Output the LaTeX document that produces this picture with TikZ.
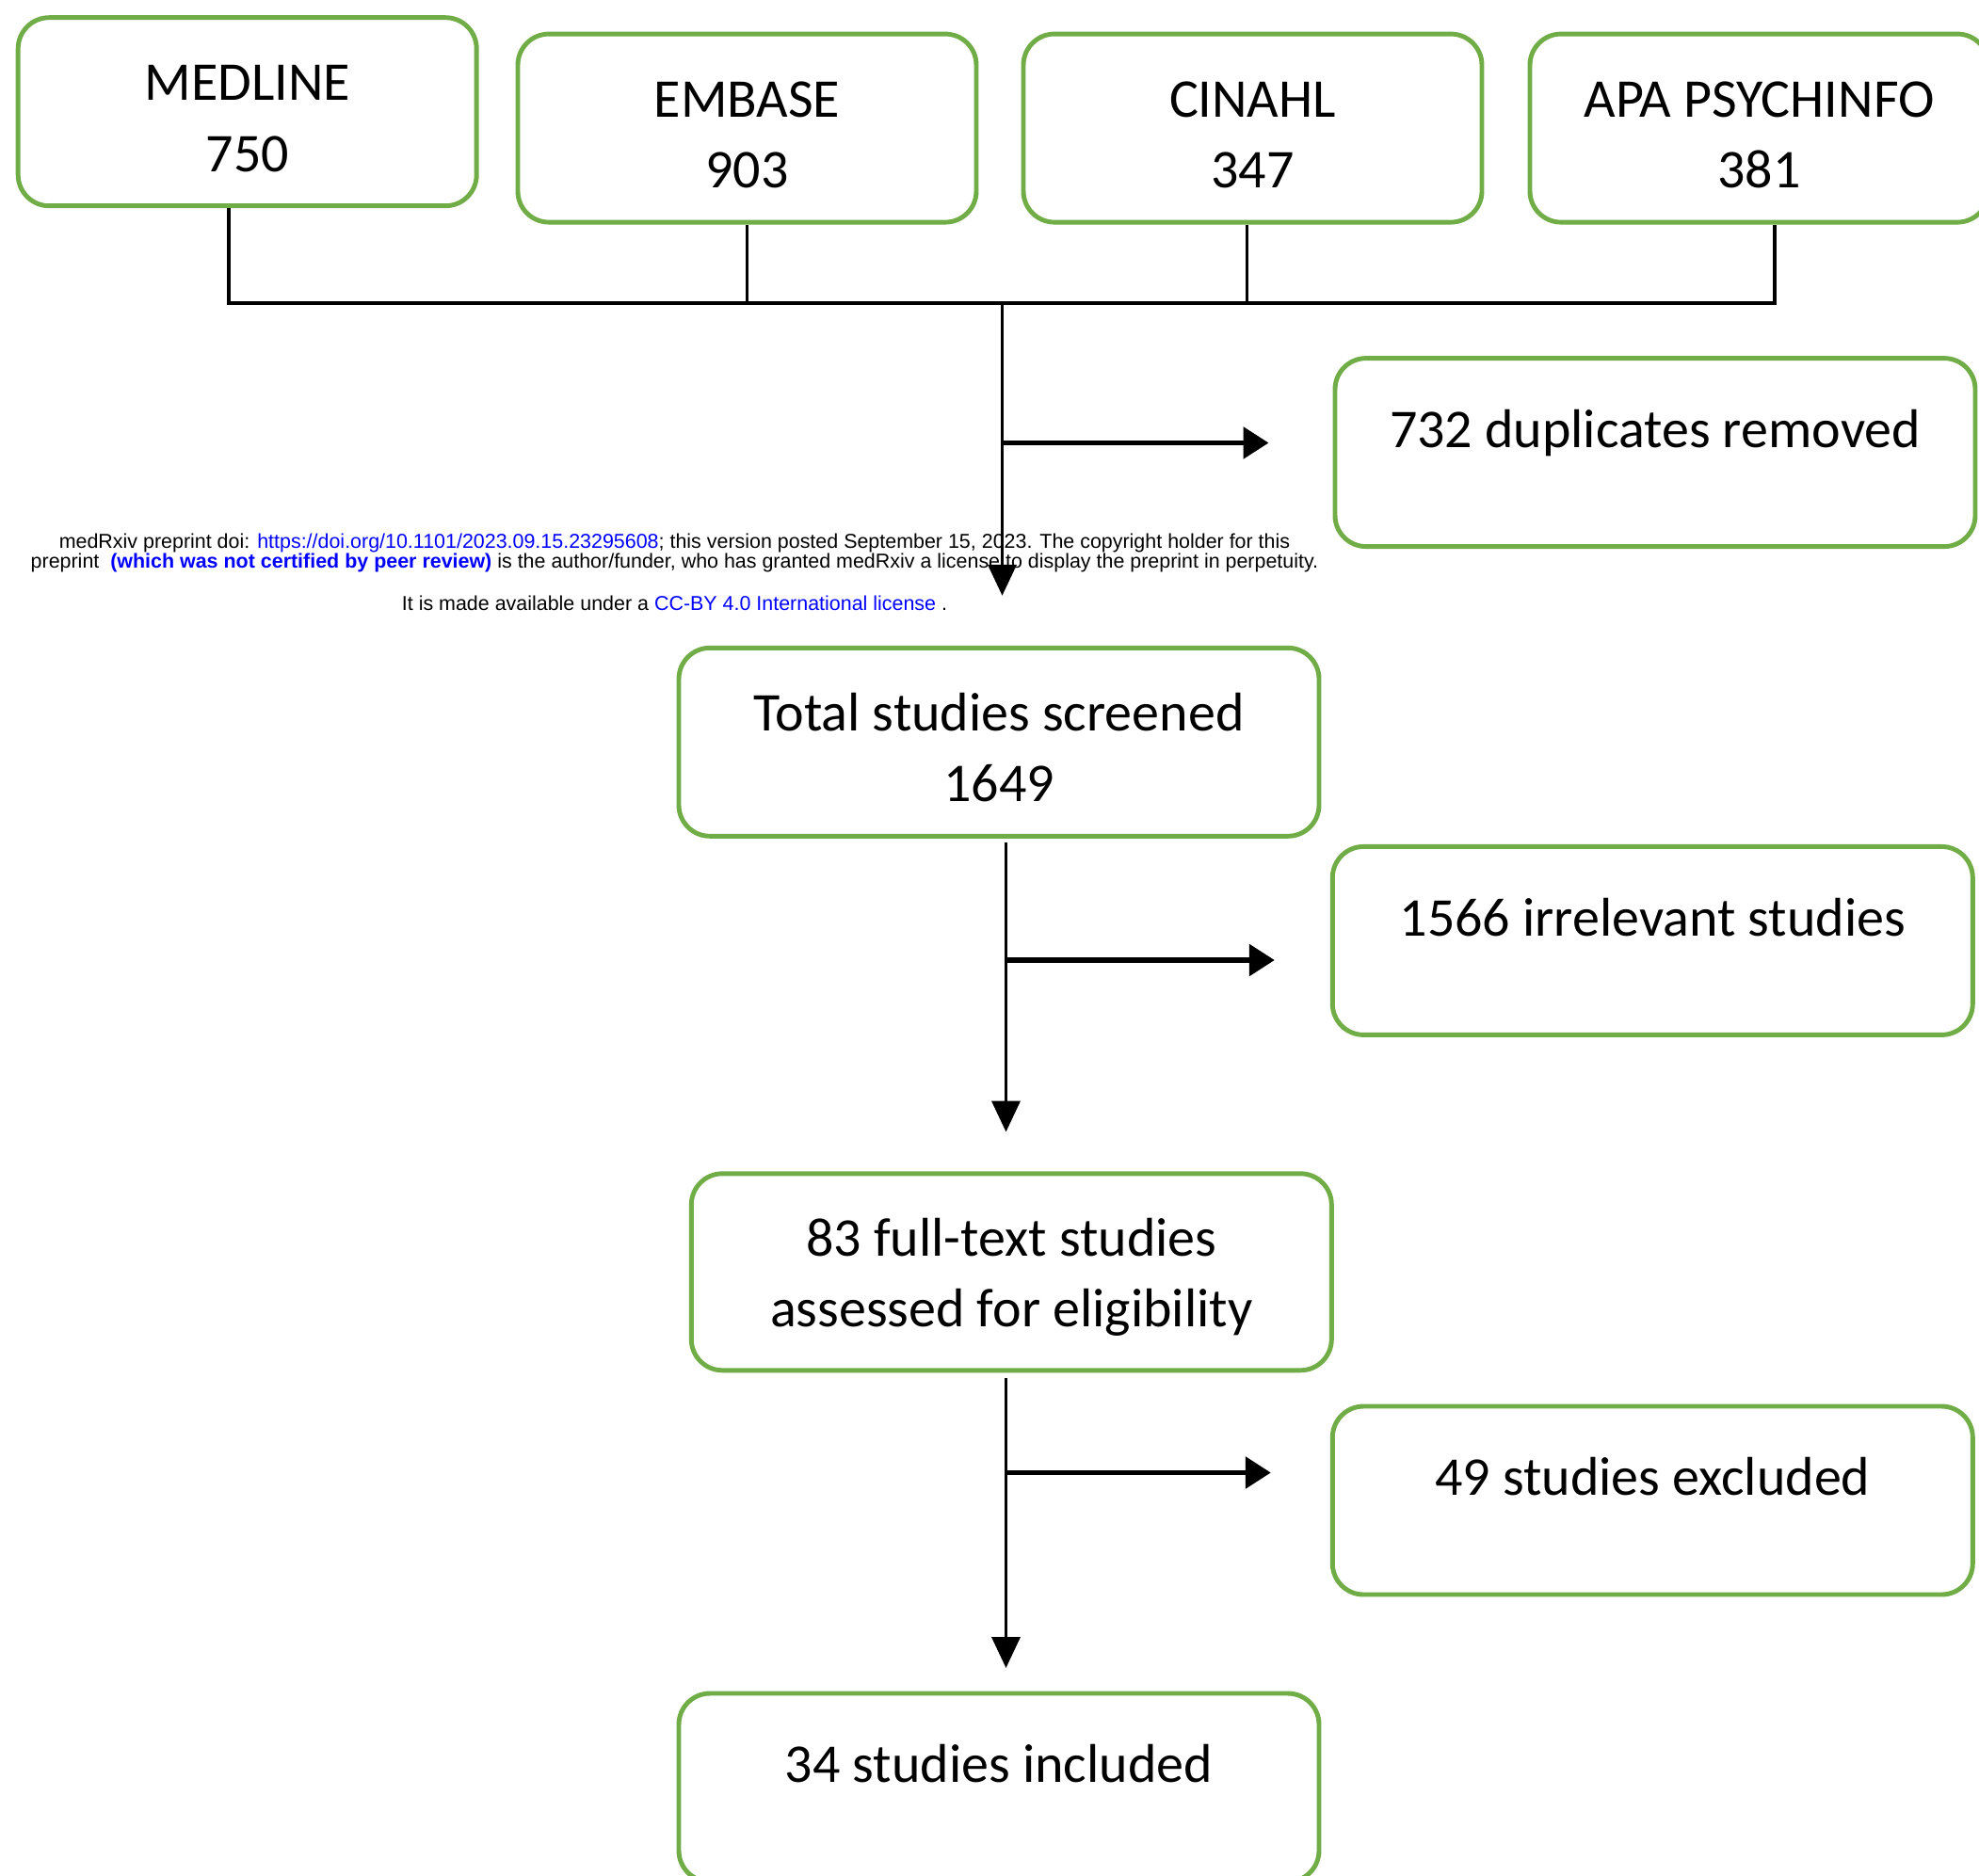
\documentclass[tikz,border=0pt]{standalone}
\usepackage{fontspec}
\setmainfont{Carlito}
\newfontfamily\notefont{Liberation Sans}
\usetikzlibrary{arrows.meta}
\definecolor{boxgreen}{RGB}{112,173,71}
\definecolor{linkblue}{RGB}{0,0,255}
\newcommand{\dropby}[1]{\rule[-#1]{0pt}{0pt}}
\newcommand{\liftby}[1]{\rule{0pt}{#1}}
\tikzset{%
flowbox/.style={draw=boxgreen, line width=1.4pt, rounded corners=0.33cm, minimum width=6.8cm, minimum height=2.0cm, inner sep=0pt, align=center, font=\fontsize{16.500000}{21.400000}\selectfont},%
dbbox/.style={flowbox, minimum width=4.87cm},%
link/.style={line width=1.1pt},%
flowarrow/.style={line width=1.1pt, -{Triangle[length=0.33cm,width=0.3cm]}},%
sidearrow/.style={line width=1.6pt, -{Triangle[length=0.27cm,width=0.33cm]}},%
notetext/.style={font=\notefont\fontsize{6.100000}{6.700000}\selectfont, inner sep=0pt}%
}
\begin{document}
\begin{tikzpicture}%
\clip (0, 0) rectangle (21.020000, -19.920000);%
\fill[white] (0, 0) rectangle (21.020000, -19.920000);%
\node[dbbox] (medline) at (2.627000, -1.187000) {\liftby{0.520000cm}MEDLINE\\750};%
\node[dbbox] (embase) at (7.935000, -1.361000) {\liftby{0.520000cm}EMBASE\\903};%
\node[dbbox] (cinahl) at (13.305000, -1.361000) {\liftby{0.520000cm}CINAHL\\347};%
\node[dbbox] (psych) at (18.685000, -1.361000) {\liftby{0.520000cm}APA PSYCHINFO\\381};%
\node[flowbox] (dup) at (17.580000, -4.806000) {732 duplicates removed\dropby{0.510000cm}};%
\node[flowbox] (screened) at (10.610000, -7.883000) {\liftby{0.520000cm}Total studies screened\\1649};%
\node[flowbox] (irrel) at (17.553000, -9.994000) {1566 irrelevant studies\dropby{0.510000cm}};%
\node[flowbox, minimum height=2.09cm] (fulltext) at (10.743000, -13.513000) {\liftby{0.520000cm}83 full-text studies\\assessed for eligibility};%
\node[flowbox] (excl) at (17.553000, -15.940000) {49 studies excluded\dropby{0.510000cm}};%
\node[flowbox] (incl) at (10.610000, -18.990000) {34 studies included\dropby{0.510000cm}};%
\coordinate (join) at (10.645000, -3.217000);%
\coordinate (dupfork) at (10.645000, -4.705000);%
\coordinate (scrtip) at (10.645000, -6.328000);%
\coordinate (scrfork) at (10.685000, -10.200000);%
\coordinate (fulltip) at (10.685000, -12.025000);%
\coordinate (fullfork) at (10.685000, -15.645000);%
\coordinate (incltip) at (10.685000, -17.720000);%
\draw[link] ([xshift=-0.200000cm]medline.south) |- (join) -| ([xshift=0.165000cm]psych.south);%
\draw[link] (embase.south) -- (embase.south |- join);%
\draw[link] ([xshift=-0.060000cm]cinahl.south) -- ([xshift=-0.060000cm]cinahl.south |- join);%
\draw[flowarrow] (join) -- (scrtip);%
\draw[sidearrow] (dupfork) -- ([xshift=-0.680000cm]dup.west |- dupfork);%
\draw[flowarrow] ([yshift=-0.040000cm]screened.south -| scrfork) -- (fulltip);%
\draw[sidearrow] (scrfork) -- ([xshift=-0.590000cm]irrel.west |- scrfork);%
\draw[flowarrow] ([yshift=-0.060000cm]fulltext.south -| fullfork) -- (incltip);%
\draw[sidearrow] (fullfork) -- ([xshift=-0.630000cm]excl.west |- fullfork);%
\node[notetext] (note1) at (7.165000, -5.765000) {medRxiv preprint doi: \textcolor{linkblue}{https://doi.org/10.1101/2023.09.15.23295608}; this version posted September 15, 2023. The copyright holder for this};%
\node[notetext] (note2) at (7.165000, -5.979000) {preprint \ \textcolor{linkblue}{\bfseries (which was not certified by peer review)} is the author/funder, who has granted medRxiv a license to display the preprint in perpetuity.};%
\node[notetext] (note3) at (7.165000, -6.408000) {It is made available under a \textcolor{linkblue}{CC-BY 4.0 International license} .};%
\end{tikzpicture}
\end{document}
